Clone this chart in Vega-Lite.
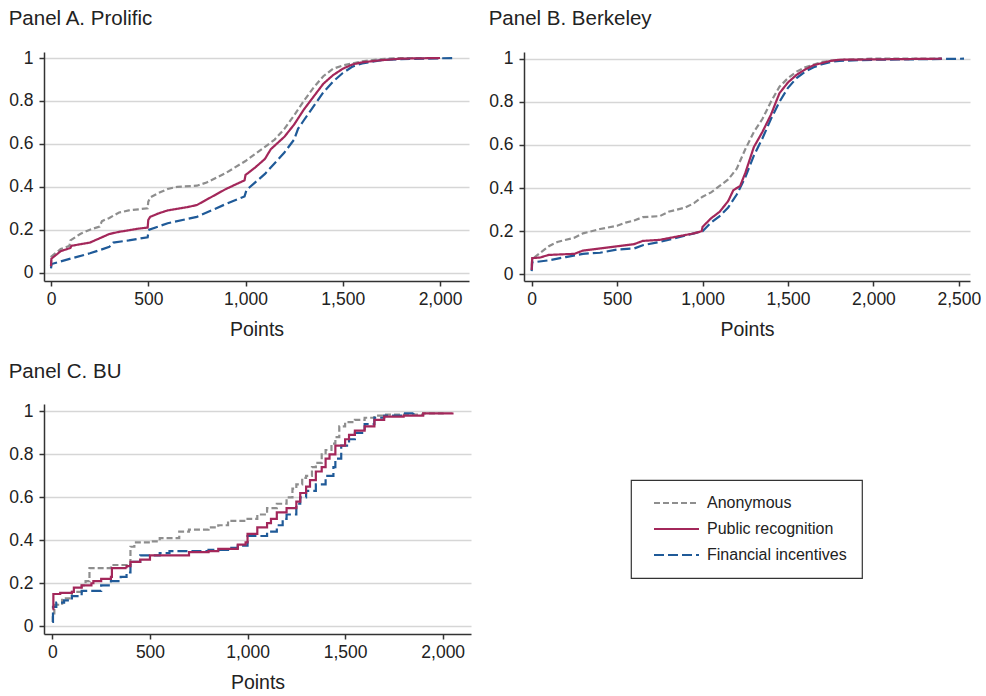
{
  "$schema": "https://vega.github.io/schema/vega-lite/v6.json",
  "background": "white",
  "padding": {"left": 8, "top": 8, "right": 0, "bottom": 0},
  "config": {
    "font": "Liberation Sans",
    "view": {"stroke": null},
    "axis": {"labelFontSize": 17.5, "titleFontSize": 19.5, "labelColor": "#222", "titleColor": "#222", "titleFontWeight": "normal", "domainColor": "#333", "domainWidth": 1.5, "tickColor": "#333", "tickWidth": 1.5, "tickSize": 5, "labelPadding": 4, "titlePadding": 13},
    "axisY": {"gridColor": "#d6d6d6", "gridWidth": 1.5, "labelPadding": 6},
    "axisX": {"grid": false},
    "title": {"anchor": "start", "frame": "bounds", "fontSize": 20.5, "fontWeight": "normal", "color": "#222", "offset": 20},
    "legend": {"orient": "none", "legendX": 587, "legendY": 428, "strokeColor": "#333", "strokeWidth": 1.2, "padding": 15, "symbolType": "M0,0H9", "symbolSize": 100, "symbolStrokeWidth": 2.5, "labelFontSize": 16, "labelColor": "#222", "labelOffset": 45, "rowPadding": 10},
    "line": {"strokeWidth": 2.2}
  },
  "datasets": {
    "A": [
      {"group": "Anonymous", "points": 0, "share": 0.03}, {"group": "Anonymous", "points": 2, "share": 0.075}, {"group": "Anonymous", "points": 50, "share": 0.11}, {"group": "Anonymous", "points": 95, "share": 0.125}, {"group": "Anonymous", "points": 100, "share": 0.15}, {"group": "Anonymous", "points": 150, "share": 0.18}, {"group": "Anonymous", "points": 200, "share": 0.2}, {"group": "Anonymous", "points": 250, "share": 0.215}, {"group": "Anonymous", "points": 262, "share": 0.24}, {"group": "Anonymous", "points": 300, "share": 0.255}, {"group": "Anonymous", "points": 350, "share": 0.28}, {"group": "Anonymous", "points": 400, "share": 0.29}, {"group": "Anonymous", "points": 450, "share": 0.295}, {"group": "Anonymous", "points": 497, "share": 0.3}, {"group": "Anonymous", "points": 500, "share": 0.33}, {"group": "Anonymous", "points": 510, "share": 0.35}, {"group": "Anonymous", "points": 550, "share": 0.37}, {"group": "Anonymous", "points": 600, "share": 0.39}, {"group": "Anonymous", "points": 650, "share": 0.4}, {"group": "Anonymous", "points": 750, "share": 0.405}, {"group": "Anonymous", "points": 800, "share": 0.42}, {"group": "Anonymous", "points": 900, "share": 0.465}, {"group": "Anonymous", "points": 1000, "share": 0.52}, {"group": "Anonymous", "points": 1100, "share": 0.586}, {"group": "Anonymous", "points": 1150, "share": 0.62}, {"group": "Anonymous", "points": 1200, "share": 0.67}, {"group": "Anonymous", "points": 1250, "share": 0.733}, {"group": "Anonymous", "points": 1300, "share": 0.8}, {"group": "Anonymous", "points": 1350, "share": 0.862}, {"group": "Anonymous", "points": 1400, "share": 0.915}, {"group": "Anonymous", "points": 1450, "share": 0.95}, {"group": "Anonymous", "points": 1500, "share": 0.965}, {"group": "Anonymous", "points": 1600, "share": 0.985}, {"group": "Anonymous", "points": 1700, "share": 0.995}, {"group": "Anonymous", "points": 1800, "share": 1.0}, {"group": "Anonymous", "points": 2000, "share": 1.0},
      {"group": "Financial incentives", "points": 0, "share": 0.02}, {"group": "Financial incentives", "points": 3, "share": 0.04}, {"group": "Financial incentives", "points": 100, "share": 0.065}, {"group": "Financial incentives", "points": 200, "share": 0.09}, {"group": "Financial incentives", "points": 300, "share": 0.12}, {"group": "Financial incentives", "points": 320, "share": 0.14}, {"group": "Financial incentives", "points": 400, "share": 0.15}, {"group": "Financial incentives", "points": 497, "share": 0.165}, {"group": "Financial incentives", "points": 500, "share": 0.185}, {"group": "Financial incentives", "points": 505, "share": 0.2}, {"group": "Financial incentives", "points": 600, "share": 0.23}, {"group": "Financial incentives", "points": 700, "share": 0.25}, {"group": "Financial incentives", "points": 750, "share": 0.26}, {"group": "Financial incentives", "points": 800, "share": 0.28}, {"group": "Financial incentives", "points": 900, "share": 0.32}, {"group": "Financial incentives", "points": 995, "share": 0.355}, {"group": "Financial incentives", "points": 1005, "share": 0.385}, {"group": "Financial incentives", "points": 1100, "share": 0.46}, {"group": "Financial incentives", "points": 1150, "share": 0.51}, {"group": "Financial incentives", "points": 1200, "share": 0.56}, {"group": "Financial incentives", "points": 1250, "share": 0.62}, {"group": "Financial incentives", "points": 1270, "share": 0.67}, {"group": "Financial incentives", "points": 1300, "share": 0.71}, {"group": "Financial incentives", "points": 1400, "share": 0.84}, {"group": "Financial incentives", "points": 1450, "share": 0.89}, {"group": "Financial incentives", "points": 1500, "share": 0.93}, {"group": "Financial incentives", "points": 1550, "share": 0.96}, {"group": "Financial incentives", "points": 1600, "share": 0.975}, {"group": "Financial incentives", "points": 1700, "share": 0.99}, {"group": "Financial incentives", "points": 1800, "share": 0.995}, {"group": "Financial incentives", "points": 2080, "share": 1.0},
      {"group": "Public recognition", "points": 0, "share": 0.03}, {"group": "Public recognition", "points": 2, "share": 0.065}, {"group": "Public recognition", "points": 50, "share": 0.1}, {"group": "Public recognition", "points": 100, "share": 0.115}, {"group": "Public recognition", "points": 105, "share": 0.125}, {"group": "Public recognition", "points": 200, "share": 0.14}, {"group": "Public recognition", "points": 250, "share": 0.16}, {"group": "Public recognition", "points": 300, "share": 0.18}, {"group": "Public recognition", "points": 350, "share": 0.19}, {"group": "Public recognition", "points": 450, "share": 0.205}, {"group": "Public recognition", "points": 497, "share": 0.21}, {"group": "Public recognition", "points": 500, "share": 0.245}, {"group": "Public recognition", "points": 510, "share": 0.26}, {"group": "Public recognition", "points": 550, "share": 0.275}, {"group": "Public recognition", "points": 600, "share": 0.29}, {"group": "Public recognition", "points": 700, "share": 0.305}, {"group": "Public recognition", "points": 750, "share": 0.315}, {"group": "Public recognition", "points": 800, "share": 0.34}, {"group": "Public recognition", "points": 900, "share": 0.39}, {"group": "Public recognition", "points": 995, "share": 0.43}, {"group": "Public recognition", "points": 1000, "share": 0.455}, {"group": "Public recognition", "points": 1050, "share": 0.49}, {"group": "Public recognition", "points": 1100, "share": 0.53}, {"group": "Public recognition", "points": 1130, "share": 0.575}, {"group": "Public recognition", "points": 1200, "share": 0.633}, {"group": "Public recognition", "points": 1250, "share": 0.69}, {"group": "Public recognition", "points": 1300, "share": 0.76}, {"group": "Public recognition", "points": 1350, "share": 0.82}, {"group": "Public recognition", "points": 1400, "share": 0.88}, {"group": "Public recognition", "points": 1450, "share": 0.92}, {"group": "Public recognition", "points": 1500, "share": 0.95}, {"group": "Public recognition", "points": 1550, "share": 0.97}, {"group": "Public recognition", "points": 1600, "share": 0.98}, {"group": "Public recognition", "points": 1700, "share": 0.99}, {"group": "Public recognition", "points": 1800, "share": 0.997}, {"group": "Public recognition", "points": 2000, "share": 1.0}
    ],
    "B": [
      {"group": "Anonymous", "points": 0, "share": 0.04}, {"group": "Anonymous", "points": 3, "share": 0.07}, {"group": "Anonymous", "points": 50, "share": 0.1}, {"group": "Anonymous", "points": 100, "share": 0.13}, {"group": "Anonymous", "points": 150, "share": 0.15}, {"group": "Anonymous", "points": 250, "share": 0.17}, {"group": "Anonymous", "points": 300, "share": 0.19}, {"group": "Anonymous", "points": 400, "share": 0.21}, {"group": "Anonymous", "points": 500, "share": 0.225}, {"group": "Anonymous", "points": 550, "share": 0.24}, {"group": "Anonymous", "points": 600, "share": 0.25}, {"group": "Anonymous", "points": 650, "share": 0.265}, {"group": "Anonymous", "points": 750, "share": 0.27}, {"group": "Anonymous", "points": 800, "share": 0.29}, {"group": "Anonymous", "points": 900, "share": 0.31}, {"group": "Anonymous", "points": 950, "share": 0.33}, {"group": "Anonymous", "points": 1000, "share": 0.36}, {"group": "Anonymous", "points": 1050, "share": 0.38}, {"group": "Anonymous", "points": 1100, "share": 0.41}, {"group": "Anonymous", "points": 1150, "share": 0.44}, {"group": "Anonymous", "points": 1200, "share": 0.49}, {"group": "Anonymous", "points": 1250, "share": 0.58}, {"group": "Anonymous", "points": 1300, "share": 0.66}, {"group": "Anonymous", "points": 1350, "share": 0.72}, {"group": "Anonymous", "points": 1400, "share": 0.8}, {"group": "Anonymous", "points": 1450, "share": 0.87}, {"group": "Anonymous", "points": 1500, "share": 0.91}, {"group": "Anonymous", "points": 1550, "share": 0.94}, {"group": "Anonymous", "points": 1600, "share": 0.96}, {"group": "Anonymous", "points": 1700, "share": 0.985}, {"group": "Anonymous", "points": 1800, "share": 0.995}, {"group": "Anonymous", "points": 2000, "share": 1.0}, {"group": "Anonymous", "points": 2400, "share": 1.0},
      {"group": "Financial incentives", "points": 0, "share": 0.015}, {"group": "Financial incentives", "points": 3, "share": 0.055}, {"group": "Financial incentives", "points": 100, "share": 0.065}, {"group": "Financial incentives", "points": 200, "share": 0.08}, {"group": "Financial incentives", "points": 300, "share": 0.095}, {"group": "Financial incentives", "points": 400, "share": 0.1}, {"group": "Financial incentives", "points": 500, "share": 0.115}, {"group": "Financial incentives", "points": 600, "share": 0.12}, {"group": "Financial incentives", "points": 650, "share": 0.135}, {"group": "Financial incentives", "points": 750, "share": 0.15}, {"group": "Financial incentives", "points": 850, "share": 0.17}, {"group": "Financial incentives", "points": 950, "share": 0.19}, {"group": "Financial incentives", "points": 1000, "share": 0.2}, {"group": "Financial incentives", "points": 1050, "share": 0.24}, {"group": "Financial incentives", "points": 1100, "share": 0.27}, {"group": "Financial incentives", "points": 1150, "share": 0.31}, {"group": "Financial incentives", "points": 1200, "share": 0.37}, {"group": "Financial incentives", "points": 1250, "share": 0.45}, {"group": "Financial incentives", "points": 1300, "share": 0.55}, {"group": "Financial incentives", "points": 1350, "share": 0.63}, {"group": "Financial incentives", "points": 1400, "share": 0.72}, {"group": "Financial incentives", "points": 1450, "share": 0.8}, {"group": "Financial incentives", "points": 1500, "share": 0.865}, {"group": "Financial incentives", "points": 1550, "share": 0.91}, {"group": "Financial incentives", "points": 1600, "share": 0.94}, {"group": "Financial incentives", "points": 1650, "share": 0.96}, {"group": "Financial incentives", "points": 1700, "share": 0.975}, {"group": "Financial incentives", "points": 1750, "share": 0.985}, {"group": "Financial incentives", "points": 1800, "share": 0.99}, {"group": "Financial incentives", "points": 2000, "share": 0.995}, {"group": "Financial incentives", "points": 2530, "share": 1.0},
      {"group": "Public recognition", "points": 0, "share": 0.02}, {"group": "Public recognition", "points": 3, "share": 0.075}, {"group": "Public recognition", "points": 50, "share": 0.078}, {"group": "Public recognition", "points": 100, "share": 0.09}, {"group": "Public recognition", "points": 250, "share": 0.095}, {"group": "Public recognition", "points": 300, "share": 0.11}, {"group": "Public recognition", "points": 400, "share": 0.12}, {"group": "Public recognition", "points": 500, "share": 0.13}, {"group": "Public recognition", "points": 600, "share": 0.14}, {"group": "Public recognition", "points": 650, "share": 0.155}, {"group": "Public recognition", "points": 750, "share": 0.16}, {"group": "Public recognition", "points": 850, "share": 0.175}, {"group": "Public recognition", "points": 950, "share": 0.19}, {"group": "Public recognition", "points": 995, "share": 0.2}, {"group": "Public recognition", "points": 1000, "share": 0.22}, {"group": "Public recognition", "points": 1050, "share": 0.26}, {"group": "Public recognition", "points": 1100, "share": 0.29}, {"group": "Public recognition", "points": 1150, "share": 0.34}, {"group": "Public recognition", "points": 1180, "share": 0.39}, {"group": "Public recognition", "points": 1220, "share": 0.41}, {"group": "Public recognition", "points": 1250, "share": 0.47}, {"group": "Public recognition", "points": 1300, "share": 0.59}, {"group": "Public recognition", "points": 1350, "share": 0.66}, {"group": "Public recognition", "points": 1400, "share": 0.74}, {"group": "Public recognition", "points": 1450, "share": 0.84}, {"group": "Public recognition", "points": 1500, "share": 0.89}, {"group": "Public recognition", "points": 1550, "share": 0.925}, {"group": "Public recognition", "points": 1600, "share": 0.95}, {"group": "Public recognition", "points": 1650, "share": 0.97}, {"group": "Public recognition", "points": 1700, "share": 0.98}, {"group": "Public recognition", "points": 1750, "share": 0.99}, {"group": "Public recognition", "points": 1800, "share": 0.995}, {"group": "Public recognition", "points": 2400, "share": 1.0}
    ],
    "C": [
      {"group": "Anonymous", "points": 0, "share": 0.02}, {"group": "Anonymous", "points": 2, "share": 0.06}, {"group": "Anonymous", "points": 10, "share": 0.1}, {"group": "Anonymous", "points": 50, "share": 0.13}, {"group": "Anonymous", "points": 100, "share": 0.16}, {"group": "Anonymous", "points": 150, "share": 0.19}, {"group": "Anonymous", "points": 170, "share": 0.21}, {"group": "Anonymous", "points": 190, "share": 0.27}, {"group": "Anonymous", "points": 300, "share": 0.285}, {"group": "Anonymous", "points": 380, "share": 0.29}, {"group": "Anonymous", "points": 400, "share": 0.37}, {"group": "Anonymous", "points": 420, "share": 0.39}, {"group": "Anonymous", "points": 500, "share": 0.395}, {"group": "Anonymous", "points": 550, "share": 0.41}, {"group": "Anonymous", "points": 650, "share": 0.44}, {"group": "Anonymous", "points": 700, "share": 0.45}, {"group": "Anonymous", "points": 800, "share": 0.46}, {"group": "Anonymous", "points": 850, "share": 0.47}, {"group": "Anonymous", "points": 900, "share": 0.49}, {"group": "Anonymous", "points": 1000, "share": 0.5}, {"group": "Anonymous", "points": 1050, "share": 0.52}, {"group": "Anonymous", "points": 1100, "share": 0.55}, {"group": "Anonymous", "points": 1150, "share": 0.57}, {"group": "Anonymous", "points": 1200, "share": 0.6}, {"group": "Anonymous", "points": 1230, "share": 0.64}, {"group": "Anonymous", "points": 1250, "share": 0.66}, {"group": "Anonymous", "points": 1280, "share": 0.69}, {"group": "Anonymous", "points": 1300, "share": 0.7}, {"group": "Anonymous", "points": 1330, "share": 0.74}, {"group": "Anonymous", "points": 1350, "share": 0.76}, {"group": "Anonymous", "points": 1380, "share": 0.8}, {"group": "Anonymous", "points": 1400, "share": 0.82}, {"group": "Anonymous", "points": 1430, "share": 0.85}, {"group": "Anonymous", "points": 1450, "share": 0.88}, {"group": "Anonymous", "points": 1470, "share": 0.93}, {"group": "Anonymous", "points": 1500, "share": 0.95}, {"group": "Anonymous", "points": 1550, "share": 0.96}, {"group": "Anonymous", "points": 1600, "share": 0.97}, {"group": "Anonymous", "points": 1650, "share": 0.98}, {"group": "Anonymous", "points": 1700, "share": 0.985}, {"group": "Anonymous", "points": 1900, "share": 0.99}, {"group": "Anonymous", "points": 2000, "share": 0.995},
      {"group": "Financial incentives", "points": 0, "share": 0.02}, {"group": "Financial incentives", "points": 3, "share": 0.09}, {"group": "Financial incentives", "points": 20, "share": 0.11}, {"group": "Financial incentives", "points": 60, "share": 0.12}, {"group": "Financial incentives", "points": 100, "share": 0.14}, {"group": "Financial incentives", "points": 150, "share": 0.165}, {"group": "Financial incentives", "points": 250, "share": 0.19}, {"group": "Financial incentives", "points": 300, "share": 0.21}, {"group": "Financial incentives", "points": 350, "share": 0.23}, {"group": "Financial incentives", "points": 380, "share": 0.25}, {"group": "Financial incentives", "points": 400, "share": 0.3}, {"group": "Financial incentives", "points": 450, "share": 0.33}, {"group": "Financial incentives", "points": 550, "share": 0.34}, {"group": "Financial incentives", "points": 600, "share": 0.35}, {"group": "Financial incentives", "points": 800, "share": 0.355}, {"group": "Financial incentives", "points": 900, "share": 0.365}, {"group": "Financial incentives", "points": 950, "share": 0.375}, {"group": "Financial incentives", "points": 1000, "share": 0.42}, {"group": "Financial incentives", "points": 1100, "share": 0.44}, {"group": "Financial incentives", "points": 1150, "share": 0.47}, {"group": "Financial incentives", "points": 1180, "share": 0.5}, {"group": "Financial incentives", "points": 1200, "share": 0.52}, {"group": "Financial incentives", "points": 1250, "share": 0.57}, {"group": "Financial incentives", "points": 1270, "share": 0.6}, {"group": "Financial incentives", "points": 1300, "share": 0.63}, {"group": "Financial incentives", "points": 1350, "share": 0.66}, {"group": "Financial incentives", "points": 1400, "share": 0.7}, {"group": "Financial incentives", "points": 1440, "share": 0.74}, {"group": "Financial incentives", "points": 1450, "share": 0.78}, {"group": "Financial incentives", "points": 1480, "share": 0.84}, {"group": "Financial incentives", "points": 1520, "share": 0.87}, {"group": "Financial incentives", "points": 1550, "share": 0.9}, {"group": "Financial incentives", "points": 1600, "share": 0.94}, {"group": "Financial incentives", "points": 1650, "share": 0.97}, {"group": "Financial incentives", "points": 1700, "share": 0.98}, {"group": "Financial incentives", "points": 1800, "share": 0.99}, {"group": "Financial incentives", "points": 1850, "share": 1.0},
      {"group": "Public recognition", "points": 0, "share": 0.08}, {"group": "Public recognition", "points": 5, "share": 0.15}, {"group": "Public recognition", "points": 40, "share": 0.155}, {"group": "Public recognition", "points": 100, "share": 0.16}, {"group": "Public recognition", "points": 110, "share": 0.18}, {"group": "Public recognition", "points": 150, "share": 0.19}, {"group": "Public recognition", "points": 200, "share": 0.2}, {"group": "Public recognition", "points": 210, "share": 0.21}, {"group": "Public recognition", "points": 250, "share": 0.22}, {"group": "Public recognition", "points": 300, "share": 0.23}, {"group": "Public recognition", "points": 305, "share": 0.27}, {"group": "Public recognition", "points": 380, "share": 0.28}, {"group": "Public recognition", "points": 400, "share": 0.3}, {"group": "Public recognition", "points": 450, "share": 0.31}, {"group": "Public recognition", "points": 500, "share": 0.33}, {"group": "Public recognition", "points": 700, "share": 0.345}, {"group": "Public recognition", "points": 800, "share": 0.35}, {"group": "Public recognition", "points": 850, "share": 0.36}, {"group": "Public recognition", "points": 950, "share": 0.38}, {"group": "Public recognition", "points": 990, "share": 0.39}, {"group": "Public recognition", "points": 1000, "share": 0.43}, {"group": "Public recognition", "points": 1050, "share": 0.46}, {"group": "Public recognition", "points": 1100, "share": 0.48}, {"group": "Public recognition", "points": 1120, "share": 0.5}, {"group": "Public recognition", "points": 1150, "share": 0.53}, {"group": "Public recognition", "points": 1200, "share": 0.55}, {"group": "Public recognition", "points": 1250, "share": 0.58}, {"group": "Public recognition", "points": 1270, "share": 0.62}, {"group": "Public recognition", "points": 1300, "share": 0.65}, {"group": "Public recognition", "points": 1320, "share": 0.68}, {"group": "Public recognition", "points": 1350, "share": 0.72}, {"group": "Public recognition", "points": 1380, "share": 0.74}, {"group": "Public recognition", "points": 1400, "share": 0.78}, {"group": "Public recognition", "points": 1420, "share": 0.8}, {"group": "Public recognition", "points": 1450, "share": 0.84}, {"group": "Public recognition", "points": 1500, "share": 0.87}, {"group": "Public recognition", "points": 1520, "share": 0.89}, {"group": "Public recognition", "points": 1550, "share": 0.91}, {"group": "Public recognition", "points": 1600, "share": 0.93}, {"group": "Public recognition", "points": 1650, "share": 0.96}, {"group": "Public recognition", "points": 1700, "share": 0.975}, {"group": "Public recognition", "points": 1800, "share": 0.98}, {"group": "Public recognition", "points": 1900, "share": 0.99}, {"group": "Public recognition", "points": 2050, "share": 0.995}
    ]
  },
  "vconcat": [
    {
      "hconcat": [
        {
          "title": "Panel A. Prolific",
          "data": {"name": "A"},
          "width": 425, "height": 229,
          "mark": {"type": "line"},
          "encoding": {
            "x": {"field": "points", "type": "quantitative", "scale": {"domain": [-36, 2149], "nice": false, "zero": false}, "axis": {"values": [0, 500, 1000, 1500, 2000], "format": ",.0f", "title": "Points"}},
            "y": {"field": "share", "type": "quantitative", "scale": {"domain": [-0.039, 1.028], "nice": false, "zero": false}, "axis": {"values": [0, 0.2, 0.4, 0.6, 0.8, 1], "format": "~g", "title": null}},
            "color": {"field": "group", "type": "nominal", "title": null, "scale": {"domain": ["Anonymous", "Public recognition", "Financial incentives"], "range": ["#8e8e8e", "#a3275a", "#1f5a98"]}},
            "strokeDash": {"field": "group", "type": "nominal", "title": null, "scale": {"domain": ["Anonymous", "Public recognition", "Financial incentives"], "range": [[6, 3], [1, 0], [10, 4]]}}
          }
        },
        {
          "title": "Panel B. Berkeley",
          "data": {"name": "B"},
          "width": 446, "height": 229,
          "mark": {"type": "line"},
          "encoding": {
            "x": {"field": "points", "type": "quantitative", "scale": {"domain": [-45, 2565], "nice": false, "zero": false}, "axis": {"values": [0, 500, 1000, 1500, 2000, 2500], "format": ",.0f", "title": "Points"}},
            "y": {"field": "share", "type": "quantitative", "scale": {"domain": [-0.031, 1.031], "nice": false, "zero": false}, "axis": {"values": [0, 0.2, 0.4, 0.6, 0.8, 1], "format": "~g", "title": null}},
            "color": {"field": "group", "type": "nominal", "title": null, "scale": {"domain": ["Anonymous", "Public recognition", "Financial incentives"], "range": ["#8e8e8e", "#a3275a", "#1f5a98"]}},
            "strokeDash": {"field": "group", "type": "nominal", "title": null, "scale": {"domain": ["Anonymous", "Public recognition", "Financial incentives"], "range": [[6, 3], [1, 0], [10, 4]]}}
          }
        }
      ],
      "spacing": 19
    },
    {
      "title": "Panel C. BU",
      "data": {"name": "C"},
      "width": 427, "height": 230,
      "mark": {"type": "line", "interpolate": "step-after"},
      "encoding": {
        "x": {"field": "points", "type": "quantitative", "scale": {"domain": [-43, 2145], "nice": false, "zero": false}, "axis": {"values": [0, 500, 1000, 1500, 2000], "format": ",.0f", "title": "Points"}},
        "y": {"field": "share", "type": "quantitative", "scale": {"domain": [-0.036, 1.034], "nice": false, "zero": false}, "axis": {"values": [0, 0.2, 0.4, 0.6, 0.8, 1], "format": "~g", "title": null}},
        "color": {"field": "group", "type": "nominal", "title": null, "scale": {"domain": ["Anonymous", "Public recognition", "Financial incentives"], "range": ["#8e8e8e", "#a3275a", "#1f5a98"]}},
        "strokeDash": {"field": "group", "type": "nominal", "title": null, "scale": {"domain": ["Anonymous", "Public recognition", "Financial incentives"], "range": [[6, 3], [1, 0], [10, 4]]}}
      }
    }
  ],
  "spacing": 22
}
